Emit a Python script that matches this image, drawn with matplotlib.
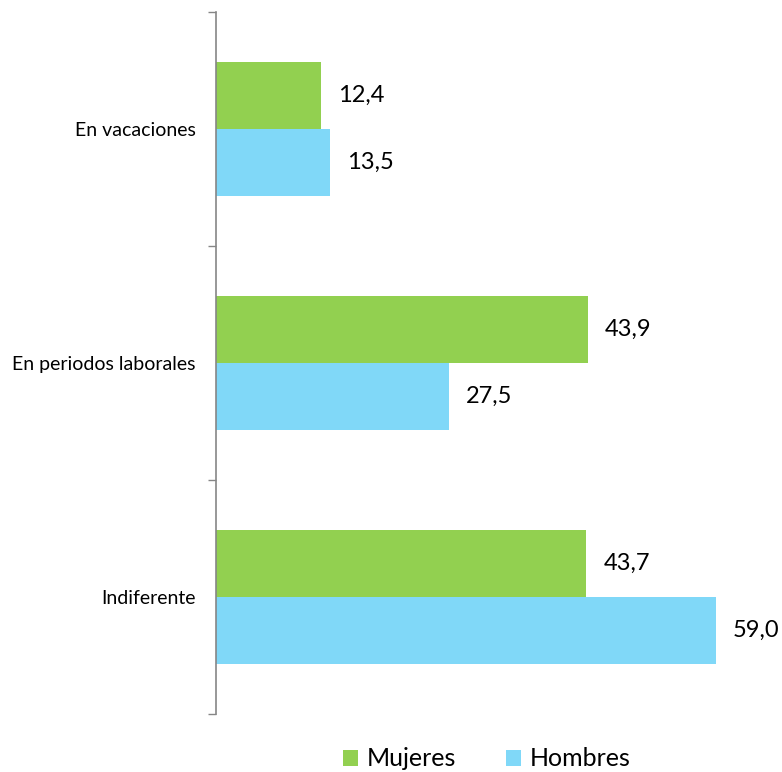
import matplotlib.pyplot as plt
import numpy as np

categories = ["En vacaciones", "En periodos laborales", "Indiferente"]
mujeres = [12.4, 43.9, 43.7]
hombres = [13.5, 27.5, 59.0]

plt.rcParams["font.family"] = ["Lato", "DejaVu Sans"]

W, H = 782, 772
fig = plt.figure(figsize=(W / 100, H / 100), dpi=100)
# axes placed in pixels: left edge 216, top 12, bottom 714
ax_left, ax_right, ax_top, ax_bottom = 216, 740, 12, 714
ax = fig.add_axes([ax_left / W, (H - ax_bottom) / H,
                   (ax_right - ax_left) / W, (ax_bottom - ax_top) / H])

px_per_unit = 500 / 59.0
ax.set_xlim(0, (ax_right - ax_left) / px_per_unit)

y = np.arange(len(categories))
h = 0.286
green = "#92D050"
blue = "#80D8F8"
b1 = ax.barh(y - h / 2, mujeres, height=h, color=green, label="Mujeres")
b2 = ax.barh(y + h / 2, hombres, height=h, color=blue, label="Hombres")

for bars, vals in [(b1, mujeres), (b2, hombres)]:
    for bar, v in zip(bars, vals):
        ax.text(v + 2.0, bar.get_y() + bar.get_height() / 2,
                f"{v:.1f}".replace(".", ","), va="center", ha="left",
                fontsize=17, color="#000000")

ax.set_ylim(len(categories) - 0.5, -0.5)
ax.set_yticks(y)
ax.set_yticklabels(categories, fontsize=14)
ax.tick_params(axis="y", which="major", length=0, pad=14.5)
ax.set_yticks(np.arange(-0.5, len(categories), 1.0), minor=True)
ax.tick_params(axis="y", which="minor", length=6, color="#868686", width=1)

ax.set_xticks([])
for s in ["top", "right", "bottom"]:
    ax.spines[s].set_visible(False)
ax.spines["left"].set_color("#868686")
ax.spines["left"].set_linewidth(1.2)

fig.legend(handles=[b1, b2], loc="center", bbox_to_anchor=(487 / W, 1 - 759 / H),
           ncol=2, frameon=False, fontsize=18, handlelength=0.6, handleheight=0.6,
           columnspacing=2.0, handletextpad=0.35)

fig.savefig("out.png", dpi=100)
